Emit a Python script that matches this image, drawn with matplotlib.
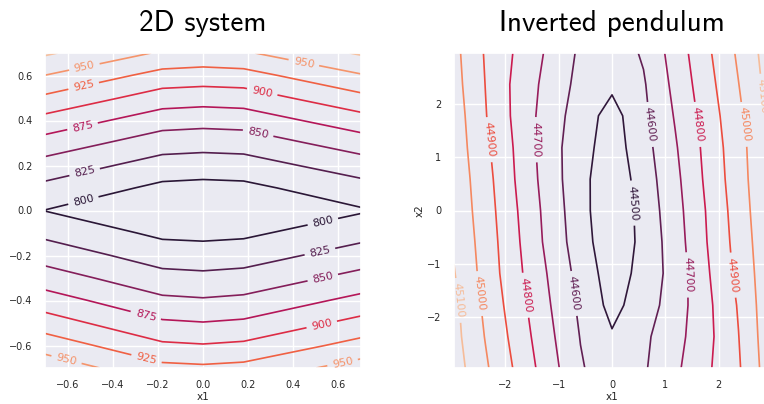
import matplotlib
matplotlib.use("Agg")
import matplotlib.pyplot as plt
import seaborn as sns

sns.set_theme(style="darkgrid")
plt.rcParams['font.family'] = ['DejaVu Sans']

# ---------------- 2D system ----------------
sys_x1 = [-0.7, -0.18, 0.0, 0.18, 0.7]
sys_x2 = [-0.7, -0.6, -0.5, -0.4, -0.3, -0.2, -0.1, 0.0,
          0.1, 0.2, 0.3, 0.4, 0.5, 0.6, 0.7]
sys_cost = [
    [966.0, 931.7, 929.4, 932.2, 961.0],
    [939.8, 904.3, 901.7, 904.8, 934.0],
    [912.2, 878.6, 876.0, 879.1, 908.0],
    [886.5, 855.1, 852.6, 855.6, 882.4],
    [862.1, 833.3, 831.1, 833.8, 858.4],
    [839.7, 813.5, 811.9, 814.0, 836.3],
    [819.1, 794.7, 793.2, 795.2, 816.3],
    [799.5, 776.0, 774.0, 775.5, 797.5],
    [818.4, 794.3, 792.4, 793.8, 815.4],
    [840.1, 814.3, 812.5, 813.8, 837.7],
    [865.0, 836.3, 834.2, 835.8, 862.6],
    [891.6, 861.1, 858.7, 860.5, 889.6],
    [920.3, 887.9, 885.4, 887.4, 918.1],
    [949.6, 916.1, 913.8, 915.5, 947.9],
    [978.4, 947.0, 943.2, 947.0, 978.0],
]
sys_levels = [800, 825, 850, 875, 900, 925, 950, 975]
sys_label_pos = [(-0.527, 0.645), (-0.53, 0.56), (-0.535, 0.38), (-0.527, 0.182),
                 (-0.533, 0.057), (0.448, 0.663), (0.263, 0.531), (0.245, 0.348),
                 (0.53, -0.045), (0.518, -0.183), (0.53, -0.295), (0.526, -0.506),
                 (0.617, -0.669), (-0.253, -0.464), (-0.25, -0.657), (-0.604, -0.66)]
sys_ticks = [-0.6, -0.4, -0.2, 0.0, 0.2, 0.4, 0.6]

# ---------------- Inverted pendulum ----------------
pend_x1 = [-2.96, -2.37, -1.78, -1.18, -0.59, 0.0, 0.59, 1.18, 1.78, 2.37, 2.96]
pend_x2 = [-2.96, -2.37, -1.78, -1.18, -0.59, 0.0, 0.59, 1.18, 1.78, 2.37, 2.96]
pend_cost = [
    [45148, 45014, 44882, 44743, 44611, 44530, 44588, 44680, 44784, 44889, 45055],
    [45133, 44995, 44861, 44724, 44596, 44510, 44580, 44664, 44772, 44898, 45064],
    [45125, 44979, 44842, 44707, 44580, 44470, 44550, 44648, 44776, 44908, 45070],
    [45105, 44963, 44824, 44691, 44564, 44450, 44532, 44641, 44788, 44927, 45071],
    [45087, 44956, 44813, 44671, 44545, 44430, 44526, 44652, 44800, 44938, 45079],
    [45075, 44946, 44803, 44663, 44536, 44420, 44535, 44662, 44807, 44948, 45088],
    [45067, 44936, 44790, 44651, 44531, 44430, 44547, 44674, 44820, 44959, 45093],
    [45058, 44921, 44783, 44643, 44538, 44450, 44562, 44689, 44829, 44966, 45095],
    [45052, 44905, 44772, 44650, 44553, 44460, 44578, 44707, 44844, 44979, 45125],
    [45038, 44898, 44771, 44666, 44570, 44520, 44590, 44726, 44862, 44998, 45138],
    [45029, 44891, 44786, 44682, 44583, 44545, 44611, 44743, 44880, 45016, 45150],
]
pend_levels = [44500, 44600, 44700, 44800, 44900, 45000, 45100]
pend_label_pos = [(-2.88, -1.69), (-2.47, -1.56), (-2.31, 1.33), (-1.60, -1.59),
                  (-1.44, 1.33), (-0.72, -1.56), (0.40, 0.14), (0.74, 1.62),
                  (1.45, -1.21), (1.62, 1.62), (2.30, -1.21), (2.49, 1.62),
                  (2.84, 2.15)]
pend_ticks = [-2, -1, 0, 1, 2]

cmap = sns.color_palette("rocket", as_cmap=True)

W, H = 764, 404
fig = plt.figure(figsize=(W / 100, H / 100), dpi=100)
ax1 = fig.add_axes([45 / W, 36 / H, 316 / W, 315 / H])
ax2 = fig.add_axes([454 / W, 36 / H, 316 / W, 315 / H])

cs1 = ax1.contour(sys_x1, sys_x2, sys_cost, levels=sys_levels, cmap=cmap,
                  vmin=775, vmax=1000, linewidths=1.2)
ax1.clabel(cs1, fmt='%d', fontsize=8, manual=sys_label_pos, inline=True)
ax1.set_xlim(-0.7, 0.7)
ax1.set_ylim(-0.7, 0.7)
ax1.set_xticks(sys_ticks)
ax1.set_yticks(sys_ticks)
ax1.set_xlabel("x1", fontsize=7.5, labelpad=1)
ax1.set_title("2D system", fontsize=21, pad=16, color='black',
              fontfamily=['cmss10', 'DejaVu Sans'])

cs2 = ax2.contour(pend_x1, pend_x2, pend_cost, levels=pend_levels, cmap=cmap,
                  vmin=44400, vmax=45200, linewidths=1.2)
ax2.clabel(cs2, fmt='%d', fontsize=8, manual=pend_label_pos, inline=True)
ax2.set_xlim(-2.96, 2.96)
ax2.set_ylim(-2.96, 2.96)
ax2.set_xticks(pend_ticks)
ax2.set_yticks(pend_ticks)
ax2.set_xlabel("x1", fontsize=7.5, labelpad=1)
ax2.set_ylabel("x2", fontsize=7.5, labelpad=2)
ax2.set_title("Inverted pendulum", fontsize=21, pad=16, color='black',
              fontfamily=['cmss10', 'DejaVu Sans'])

for ax in (ax1, ax2):
    ax.tick_params(labelsize=7, pad=3)

fig.savefig("out.png", dpi=100)
